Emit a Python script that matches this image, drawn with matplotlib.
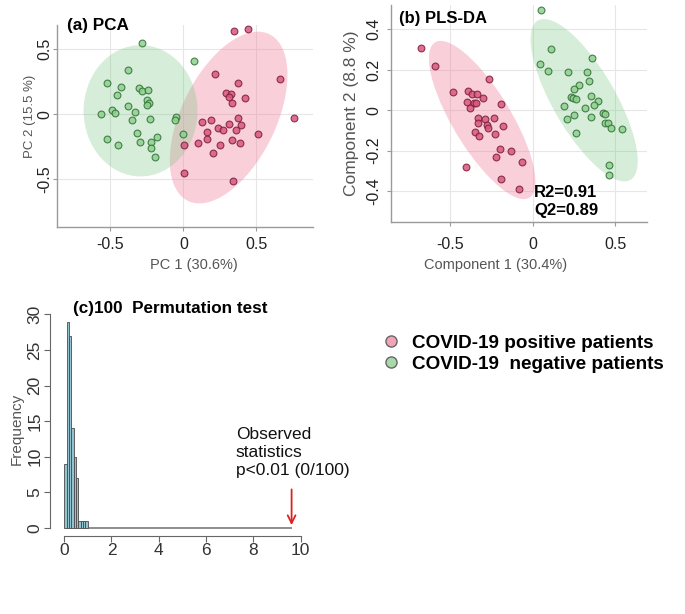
import matplotlib

matplotlib.use("Agg")
import matplotlib.pyplot as plt  # noqa: E402
from matplotlib.lines import Line2D  # noqa: E402
from matplotlib.patches import Ellipse  # noqa: E402

plt.rcParams["font.family"] = ["Liberation Sans", "DejaVu Sans"]

# (a) PCA scores
pca_pos_x = [0.347, 0.44, 0.664, 0.22, 0.373, 0.294, 0.329, 0.315, 0.336, 0.424,
             0.755, 0.375, 0.398, 0.13, 0.19, 0.236, 0.269, 0.313, 0.164, 0.363,
             0.509, 0.16, 0.25, 0.336, 0.389, 0.097, 0.005, 0.206, 0.005, 0.34]
pca_pos_y = [0.639, 0.659, 0.272, 0.31, 0.237, 0.16, 0.158, 0.132, 0.084, 0.125,
             -0.028, -0.028, -0.079, -0.061, -0.041, -0.102, -0.122, -0.076, -0.14, -0.122,
             -0.148, -0.193, -0.239, -0.198, -0.224, -0.221, -0.237, -0.298, -0.455, -0.517]
pca_neg_x = [-0.28, -0.377, -0.523, -0.428, -0.451, -0.303, -0.28, -0.243, -0.25, -0.234,
             -0.25, -0.491, -0.47, -0.567, -0.382, -0.331, -0.354, -0.231, -0.319, -0.178,
             -0.296, -0.222, -0.22, -0.525, -0.449, -0.197, -0.049, -0.058, 0.0, 0.074]
pca_neg_y = [0.545, 0.341, 0.244, 0.209, 0.145, 0.206, 0.176, 0.188, 0.112, 0.087,
             0.074, 0.036, 0.01, 0.002, 0.066, 0.015, -0.041, -0.036, -0.142, -0.173,
             -0.214, -0.214, -0.257, -0.193, -0.237, -0.328, -0.02, -0.046, -0.148, 0.41]
# ellipse: centre x, centre y, width, height, angle
pca_pos_ellipse = [0.31, -0.025, 1.40, 0.66, 68]
pca_neg_ellipse = [-0.293, 0.027, 0.78, 1.01, 0]

# (b) PLS-DA scores
pls_pos_x = [-0.673, -0.59, -0.479, -0.388, -0.368, -0.339, -0.394, -0.354, -0.343, -0.378,
             -0.299, -0.265, -0.192, -0.329, -0.289, -0.333, -0.273, -0.267, -0.232, -0.176,
             -0.349, -0.323, -0.226, -0.196, -0.222, -0.131, -0.061, -0.4, -0.19, -0.081]
pls_pos_y = [0.309, 0.217, 0.09, 0.095, 0.082, 0.082, 0.041, 0.036, 0.036, 0.011,
             0.062, 0.153, 0.03, -0.038, -0.046, -0.066, -0.074, -0.09, -0.041, -0.077,
             -0.107, -0.128, -0.12, -0.192, -0.23, -0.202, -0.256, -0.284, -0.342, -0.391]
pls_neg_x = [0.051, 0.115, 0.044, 0.095, 0.218, 0.333, 0.358, 0.343, 0.283, 0.253,
             0.232, 0.246, 0.263, 0.354, 0.398, 0.374, 0.317, 0.19, 0.253, 0.206,
             0.354, 0.43, 0.438, 0.438, 0.455, 0.475, 0.545, 0.265, 0.465, 0.461]
pls_neg_y = [0.493, 0.304, 0.23, 0.194, 0.189, 0.189, 0.259, 0.144, 0.123, 0.102,
             0.066, 0.062, 0.057, 0.071, 0.046, 0.023, 0.008, 0.02, -0.025, -0.046,
             -0.033, -0.013, -0.02, -0.062, -0.066, -0.087, -0.095, -0.115, -0.271, -0.32]
pls_pos_ellipse = [-0.305, -0.049, 0.96, 0.33, -52]
pls_neg_ellipse = [0.313, 0.049, 0.97, 0.356, -53]
r2, q2 = 0.91, 0.89

# (c) permutation test histogram
perm_bin_edges = [0.0, 0.1, 0.2, 0.3, 0.4, 0.5, 0.6, 0.7, 0.8, 0.9, 1.0]
perm_counts = [9, 29, 27, 14, 10, 7, 1, 1, 1, 1]
observed_stat = 9.62

POS_FILL = "#f07896"
NEG_FILL = "#78c882"
POS_PT = "#d8577f"
POS_EDGE = "#7a1d3a"
NEG_PT = "#8fd08f"
NEG_EDGE = "#2f6e34"
GRID = "#e6e6e6"
SPINE = "#9a9a9a"

fig = plt.figure(figsize=(6.85, 6.14), dpi=100)


def style_score_axes(ax, ypad=3.5, xpad=3.5):
    for s in ("top", "right"):
        ax.spines[s].set_visible(False)
    for s in ("left", "bottom"):
        ax.spines[s].set_color(SPINE)
        ax.spines[s].set_linewidth(1.0)
    ax.grid(True, color=GRID, linewidth=0.8)
    ax.set_axisbelow(True)
    ax.tick_params(colors=SPINE, length=3, labelcolor="#222222", labelsize=11.5)
    ax.tick_params(axis="y", labelrotation=90, pad=ypad)
    ax.tick_params(axis="x", pad=xpad)
    for lab in ax.get_yticklabels():
        lab.set_verticalalignment("center")


def add_ellipse(ax, params, color, alpha):
    cx, cy, w, h, ang = params
    ax.add_patch(Ellipse((cx, cy), w, h, angle=ang, facecolor=color,
                         edgecolor="none", alpha=alpha, zorder=1))


# ---- (a) PCA
ax = fig.add_axes([0.0837, 0.6303, 0.3737, 0.329])
add_ellipse(ax, pca_pos_ellipse, POS_FILL, 0.35)
add_ellipse(ax, pca_neg_ellipse, NEG_FILL, 0.30)
ax.scatter(pca_pos_x, pca_pos_y, s=24, c=POS_PT, edgecolors=POS_EDGE, linewidths=0.8,
           alpha=0.85, zorder=3)
ax.scatter(pca_neg_x, pca_neg_y, s=24, c=NEG_PT, edgecolors=NEG_EDGE, linewidths=0.8,
           alpha=0.85, zorder=3)
ax.set_xlim(-0.863, 0.89)
ax.set_ylim(-0.867, 0.687)
ax.set_xticks([-0.5, 0, 0.5], ["-0.5", "0", "0.5"])
ax.set_yticks([-0.5, 0, 0.5], ["-0.5", "0", "0.5"])
style_score_axes(ax, ypad=0.5, xpad=4.5)
ax.set_xlabel("PC 1 (30.6%)", fontsize=10.5, color="#555555")
ax.xaxis.set_label_coords(0.534, -0.155)
ax.set_ylabel("PC 2 (15.5 %)", fontsize=9.5, color="#555555")
ax.yaxis.set_label_coords(-0.085, 0.546)
ax.text(0.037, 0.995, "(a) PCA", transform=ax.transAxes, fontsize=12.3,
        fontweight="bold", va="center", ha="left")

# ---- (b) PLS-DA
ax = fig.add_axes([0.5704, 0.6384, 0.3742, 0.3534])
add_ellipse(ax, pls_pos_ellipse, POS_FILL, 0.35)
add_ellipse(ax, pls_neg_ellipse, NEG_FILL, 0.30)
ax.scatter(pls_pos_x, pls_pos_y, s=24, c=POS_PT, edgecolors=POS_EDGE, linewidths=0.8,
           alpha=0.85, zorder=3)
ax.scatter(pls_neg_x, pls_neg_y, s=24, c=NEG_PT, edgecolors=NEG_EDGE, linewidths=0.8,
           alpha=0.85, zorder=3)
ax.set_xlim(-0.859, 0.694)
ax.set_ylim(-0.554, 0.52)
ax.set_xticks([-0.5, 0, 0.5], ["-0.5", "0", "0.5"])
ax.set_yticks([-0.4, -0.2, 0, 0.2, 0.4], ["-0.4", "-0.2", "0", "0.2", "0.4"])
style_score_axes(ax, ypad=3.5, xpad=7.5)
ax.set_xlabel("Component 1 (30.4%)", fontsize=10.5, color="#555555")
ax.xaxis.set_label_coords(0.41, -0.165)
ax.set_ylabel("Component 2 (8.8 %)", fontsize=12.5, color="#555555")
ax.yaxis.set_label_coords(-0.125, 0.5)
ax.text(0.032, 0.94, "(b) PLS-DA", transform=ax.transAxes, fontsize=12,
        fontweight="bold", va="center", ha="left")
ax.text(0.559, 0.135, f"R2={r2:.2f}", transform=ax.transAxes, fontsize=12,
        fontweight="bold", va="center", ha="left")
ax.text(0.559, 0.052, f"Q2={q2:.2f}", transform=ax.transAxes, fontsize=12,
        fontweight="bold", va="center", ha="left")

# ---- (c) permutation histogram
ax = fig.add_axes([0.073, 0.1275, 0.3796, 0.3743])
widths = [b - a for a, b in zip(perm_bin_edges[:-1], perm_bin_edges[1:])]
ax.bar(perm_bin_edges[:-1], perm_counts, width=widths, align="edge",
       color="#93c3d1", edgecolor="#4a4a4a", linewidth=0.6, zorder=2)
ax.hlines(0, perm_bin_edges[-1], observed_stat, color="#7a7a7a", linewidth=1.2, zorder=1)
ax.annotate("", xy=(observed_stat, 0), xytext=(observed_stat, 5.8),
            arrowprops=dict(arrowstyle="->", color="#e02020", lw=1.3, mutation_scale=14),
            zorder=4)
ax.text(7.26, 14.2, "Observed\nstatistics\np<0.01 (0/100)", fontsize=12.5,
        color="#111111", va="top", ha="left", linespacing=1.25)
ax.text(0.37, 30.9, "(c)100  Permutation test", fontsize=12.3, fontweight="bold",
        va="center", ha="left")
ax.set_xlim(-0.6, 10.4)
ax.set_ylim(-1.1, 31.2)
ax.set_xticks(range(0, 11, 2))
ax.set_yticks(range(0, 31, 5))
for s in ("top", "right"):
    ax.spines[s].set_visible(False)
ax.spines["left"].set_bounds(0, 30)
ax.spines["bottom"].set_bounds(0, 10)
for s in ("left", "bottom"):
    ax.spines[s].set_color("#666666")
ax.tick_params(colors="#666666", length=4, labelcolor="#333333", labelsize=12.5, pad=1.5)
ax.tick_params(axis="y", labelrotation=90)
for lab in ax.get_yticklabels():
    lab.set_verticalalignment("center")
ax.set_ylabel("Frequency", fontsize=11, color="#555555")
ax.yaxis.set_label_coords(-0.10, 0.464)

# ---- shared legend
handles = [
    Line2D([], [], marker="o", linestyle="none", markersize=8,
           markerfacecolor="#f2a3b7", markeredgecolor="#666666"),
    Line2D([], [], marker="o", linestyle="none", markersize=8,
           markerfacecolor="#a9d9ab", markeredgecolor="#666666"),
]
fig.legend(handles, ["COVID-19 positive patients", "COVID-19  negative patients"],
           loc="upper left", bbox_to_anchor=(0.557, 0.455), frameon=False,
           prop={"weight": "bold", "size": 13.6}, handlelength=1.0,
           handletextpad=0.6, labelspacing=0.2, borderpad=0, borderaxespad=0)

fig.savefig("out.png", dpi=100)
